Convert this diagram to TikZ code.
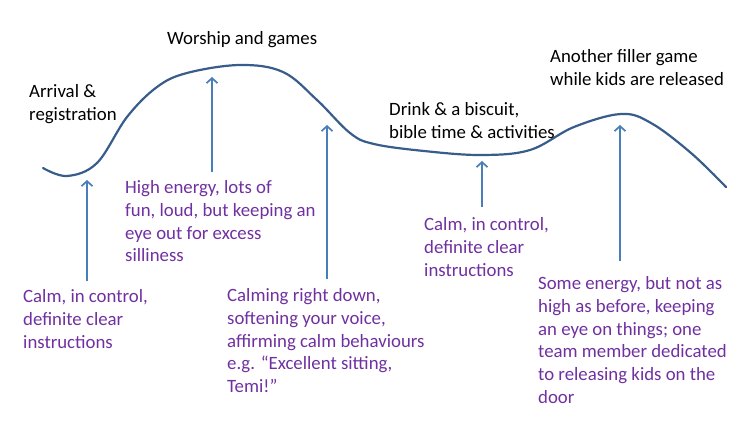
\documentclass[tikz,border=0pt]{standalone}
\usepackage{fontspec}
\setmainfont{Carlito}
\usetikzlibrary{arrows.meta,positioning}
\definecolor{curveblue}{HTML}{385D8A}
\definecolor{arrowblue}{HTML}{4A7EBB}
\definecolor{notepurple}{HTML}{7030A0}

\begin{document}
\begin{tikzpicture}[
    x=1pt, y=-1pt,
    font=\fontsize{18.8}{22.7}\selectfont,
    stage/.style={anchor=north west, inner sep=0pt, align=left, text=black},
    note/.style={anchor=north west, inner sep=0pt, align=left, text=notepurple},
    arr/.style={-{Straight Barb[length=5pt, width=11pt, line width=1.7pt]}, line width=1.9pt, draw=arrowblue},
    curve/.style={line width=2.2pt, draw=curveblue, line cap=round}
  ]
  \useasboundingbox (0,0) rectangle (748,443);

  % --- ENERGY CURVE ---
  \draw[curve] plot[smooth, tension=0.6] coordinates {
    (43,168) (67,176) (97,163) (127,117) (157,87) (187,73) (240,65) (283,72)
    (317,100) (350,133) (374,144) (424,151) (481,155) (530,150) (574,127)
    (621,114) (651,123) (691,153) (726,187)};

  % --- STAGES ---
  \node[stage] (worship_lbl) at (167,31) {Worship and games};
  \node[stage] (arrival_lbl) at (29,84.5) {Arrival \&\\registration};
  \node[stage] (drink_lbl) at (389,102.5) {Drink \& a biscuit,\\bible time \& activities};
  \node[stage] (filler_lbl) at (550,49.5) {Another filler game\\while kids are released};

  % --- NOTES ---
  \node[note] (high_note) at (125,180.5) {High energy, lots of\\fun, loud, but keeping an\\eye out for excess\\silliness};
  \node[note] (calm_note) at (23,289.5) {Calm, in control,\\definite clear\\instructions};
  \node[note] (calming_note) at (227,288.5) {Calming right down,\\softening your voice,\\affirming calm behaviours\\e.g. \textquotedblleft Excellent sitting,\\Temi!\textquotedblright};
  \node[note] (snack_note) at (424,217.5) {Calm, in control,\\definite clear\\instructions};
  \node[note] (release_note) at (538,276.5) {Some energy, but not as\\high as before, keeping\\an eye on things; one\\team member dedicated\\to releasing kids on the\\door};

  % --- POINTS ON THE CURVE ---
  \coordinate (arrival_pt) at (87,180);
  \coordinate (worship_pt) at (212,77);
  \coordinate (calmdown_pt) at (327,125);
  \coordinate (snack_pt) at (482,161);
  \coordinate (filler_pt) at (620,125);

  % --- CONNECTIONS ---
  \draw[arr] (calm_note.north west -| arrival_pt) ++(0,-8) -- (arrival_pt);
  \draw[arr] (high_note.north west -| worship_pt) ++(0,-8) -- (worship_pt);
  \draw[arr] (calming_note.north west -| calmdown_pt) ++(0,-9) -- (calmdown_pt);
  \draw[arr] (snack_note.north west -| snack_pt) ++(0,-10) -- (snack_pt);
  \draw[arr] (release_note.north west -| filler_pt) ++(0,-15) -- (filler_pt);

\end{tikzpicture}
\end{document}
